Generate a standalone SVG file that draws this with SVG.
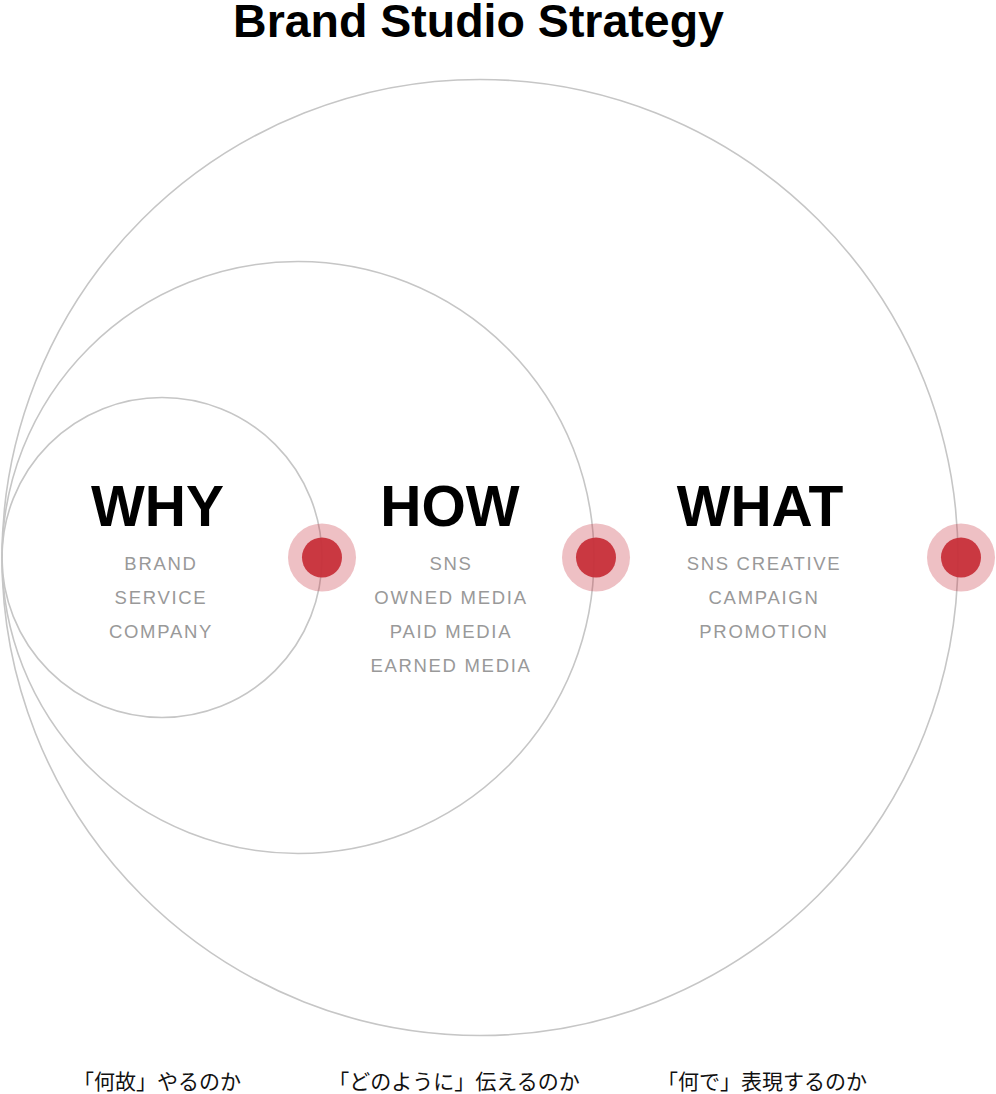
<svg xmlns="http://www.w3.org/2000/svg" width="996" height="1094" viewBox="0 0 996 1094">
<style>
.ring{fill:none;stroke:#c6c6c6;stroke-width:1.6}
.halo{fill:#c7303a;fill-opacity:0.3}
.dot{fill:#c7303a;fill-opacity:0.95}
.title{font-family:"Liberation Sans",Arial,sans-serif;font-weight:bold;font-size:46.5px;fill:#000;text-anchor:middle}
.head{font-family:"Liberation Sans",Arial,sans-serif;font-weight:bold;font-size:57px;fill:#000;text-anchor:middle}
.sub{font-family:"Liberation Sans",Arial,sans-serif;font-size:18.5px;fill:#999;letter-spacing:1.7px;text-anchor:middle}
.jp{font-family:"Noto Sans CJK JP",sans-serif;font-size:21px;fill:#111;text-anchor:middle}
</style>
<rect width="996" height="1094" fill="#fff"/>
<text class="title" x="478.5" y="37">Brand Studio Strategy</text>
<g id="rings">
<circle id="ring-what" class="ring" cx="480" cy="557.5" r="478"/>
<circle id="ring-how" class="ring" cx="298" cy="557.5" r="296"/>
<circle id="ring-why" class="ring" cx="162" cy="557.5" r="160"/>
</g>
<g id="connectors">
<g id="dot-why"><circle class="halo" cx="322" cy="557.5" r="34"/><circle class="dot" cx="322" cy="557.5" r="20"/></g>
<g id="dot-how"><circle class="halo" cx="596" cy="557.5" r="34"/><circle class="dot" cx="596" cy="557.5" r="20"/></g>
<g id="dot-what"><circle class="halo" cx="961" cy="557.5" r="34"/><circle class="dot" cx="961" cy="557.5" r="20"/></g>
</g>
<g id="why">
<text class="head" x="157.5" y="526">WHY</text>
<text class="sub" x="161" y="570">BRAND</text>
<text class="sub" x="161" y="604">SERVICE</text>
<text class="sub" x="161" y="638">COMPANY</text>
<text class="jp" x="157" y="1089">「何故」やるのか</text>
</g>
<g id="how">
<text class="head" x="450" y="526">HOW</text>
<text class="sub" x="451" y="570">SNS</text>
<text class="sub" x="451" y="604">OWNED MEDIA</text>
<text class="sub" x="451" y="638">PAID MEDIA</text>
<text class="sub" x="451" y="672">EARNED MEDIA</text>
<text class="jp" x="454" y="1089">「どのように」伝えるのか</text>
</g>
<g id="what">
<text class="head" x="760" y="526">WHAT</text>
<text class="sub" x="764" y="570">SNS CREATIVE</text>
<text class="sub" x="764" y="604">CAMPAIGN</text>
<text class="sub" x="764" y="638">PROMOTION</text>
<text class="jp" x="762" y="1089">「何で」表現するのか</text>
</g>
</svg>
